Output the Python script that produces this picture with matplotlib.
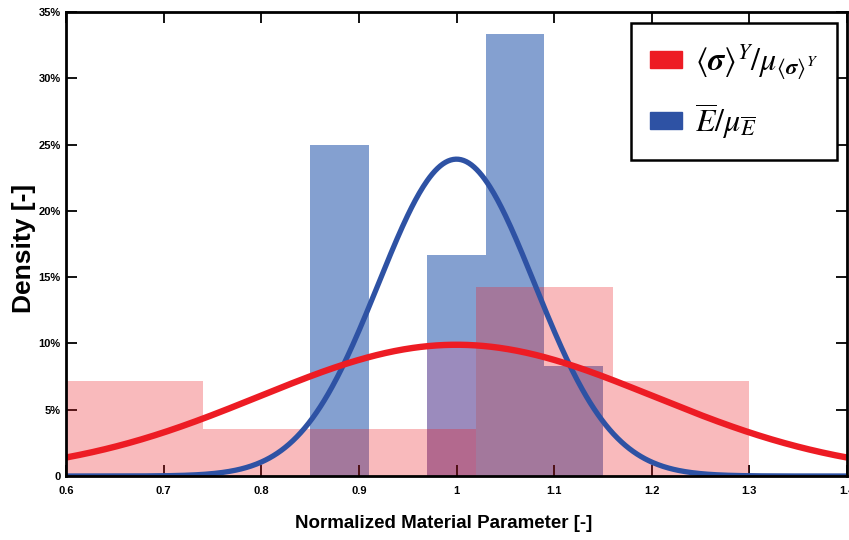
import numpy as np
import matplotlib
matplotlib.use("Agg")
import matplotlib.pyplot as plt
from matplotlib.patches import Patch

# ---- data ----
red_edges = [0.60, 0.74, 0.88, 1.02, 1.16, 1.30]
red_heights = [7.14, 3.57, 3.57, 14.29, 7.14]          # %
blue_edges = [0.85, 0.91, 0.97, 1.03, 1.09, 1.15]
blue_heights = [25.0, 0.0, 16.67, 33.33, 8.33]          # %
mid_left = [0.97]
mid_right = [1.02]
mid_heights = [10.0]                                     # lavender band inside blue bar
red_fit = dict(mu=1.0, sigma=0.202, peak=9.9)           # fitted normal, peak in %
blue_fit = dict(mu=1.0, sigma=0.080, peak=23.9)
xticks = [0.6, 0.7, 0.8, 0.9, 1.0, 1.1, 1.2, 1.3, 1.4]
xticklabels = ["0.6", "0.7", "0.8", "0.9", "1", "1.1", "1.2", "1.3", "1.4"]
yticks = [0, 5, 10, 15, 20, 25, 30, 35]
yticklabels = ["0", "5%", "10%", "15%", "20%", "25%", "30%", "35%"]

RED = "#ED1C24"
BLUE = "#2E52A4"
BLUE_BAR = "#84A0D0"
LAV = "#9B8BBD"

sans = ["Liberation Sans", "DejaVu Sans"]
plt.rcParams["mathtext.fontset"] = "stix"

fig = plt.figure(figsize=(8.49, 5.40), dpi=100)
ax = fig.add_axes([66 / 849, 1 - 476 / 540, (847 - 66) / 849, (476 - 12) / 540])

# blue histogram
bl = np.array(blue_edges[:-1])
bw = np.diff(blue_edges)
ax.bar(bl, blue_heights, width=bw, align="edge", color=BLUE_BAR, linewidth=0, zorder=1)
ax.bar(mid_left, mid_heights, width=np.array(mid_right) - np.array(mid_left),
       align="edge", color=LAV, linewidth=0, zorder=1.5)
# red histogram
rl = np.array(red_edges[:-1])
rw = np.diff(red_edges)
ax.bar(rl, red_heights, width=rw, align="edge", color=RED, alpha=0.3, linewidth=0, zorder=2)

# fitted curves
xs = np.linspace(0.6, 1.4, 600)
for fit, col, lw, z in [(blue_fit, BLUE, 3.8, 3), (red_fit, RED, 4.6, 3.1)]:
    ys = fit["peak"] * np.exp(-0.5 * ((xs - fit["mu"]) / fit["sigma"]) ** 2)
    ax.plot(xs, ys, color=col, lw=lw, zorder=z, solid_capstyle="butt")

ax.set_xlim(0.6, 1.4)
ax.set_ylim(0, 35)
ax.set_xticks(xticks)
ax.set_xticklabels(xticklabels)
ax.set_yticks(yticks)
ax.set_yticklabels(yticklabels)
ax.tick_params(direction="in", length=8, width=1.3, top=True, right=True, pad=4,
               colors="black")
ax.tick_params(axis="x", pad=7)
for lab in ax.get_xticklabels() + ax.get_yticklabels():
    lab.set_family(sans)
    lab.set_fontweight("bold")
    lab.set_fontsize(8)
for s in ax.spines.values():
    s.set_linewidth(2)
    s.set_zorder(4)

ax.set_ylabel("Density [-]", fontsize=19, fontweight="bold", family=sans)
ax.yaxis.set_label_coords(-0.039, 0.49)
ax.set_xlabel("Normalized Material Parameter [-]", fontsize=13.5, fontweight="bold", family=sans)
ax.xaxis.set_label_coords(0.483, -0.085)

handles = [Patch(color=RED), Patch(color=BLUE)]
labels = [r"$\langle\boldsymbol{\sigma}\rangle^{Y}/\mu_{\langle\boldsymbol{\sigma}\rangle^{Y}}$",
          r"$\overline{E}/\mu_{\overline{E}}$"]
leg = ax.legend(handles, labels, loc="upper right", bbox_to_anchor=(0.987, 0.976),
                borderaxespad=0, fontsize=23, frameon=True, fancybox=False, edgecolor="black",
                handlelength=1.0, handleheight=0.45, handletextpad=0.4,
                borderpad=0.6, labelspacing=0.6, framealpha=1)
leg.get_frame().set_linewidth(1.8)
leg.set_zorder(5)

fig.savefig("out.png", dpi=100)
